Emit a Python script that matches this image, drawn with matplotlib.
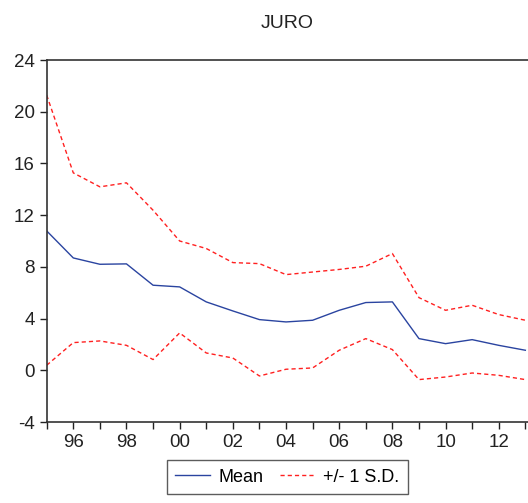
import numpy as np
import matplotlib.pyplot as plt

plt.rcParams['font.family'] = ['Liberation Sans', 'DejaVu Sans']

anos = np.arange(1995, 2014)
media = [10.78, 8.69, 8.2, 8.23, 6.58, 6.45, 5.29, 4.59, 3.92, 3.74,
         3.87, 4.64, 5.24, 5.29, 2.45, 2.06, 2.37, 1.93, 1.55]
sup = [21.28, 15.27, 14.19, 14.5, 12.38, 10.0, 9.42, 8.33, 8.25, 7.4,
       7.6, 7.8, 8.05, 9.03, 5.62, 4.64, 5.03, 4.31, 3.87]
inf = [0.39, 2.14, 2.27, 1.93, 0.83, 2.89, 1.34, 0.95, -0.44, 0.08,
       0.18, 1.55, 2.45, 1.6, -0.72, -0.52, -0.21, -0.39, -0.72]
yticks = [-4, 0, 4, 8, 12, 16, 20, 24]

fig = plt.figure(figsize=(5.28, 5.03), dpi=100)
ax = fig.add_axes([46.7/528, 1-422/503, 1-46.7/528, 362/503])

tracejado = (0, (3, 2.2))
ax.plot(anos, media, color='#2a44a0', lw=1.0, label='Mean')
ax.plot(anos, sup, color='#ff2020', lw=1.0, ls=tracejado, label='+/- 1 S.D.')
ax.plot(anos, inf, color='#ff2020', lw=1.0, ls=tracejado)

ax.set_xlim(1995, 2013.1)
ax.set_ylim(-4, 24)
ax.set_yticks(yticks)
ax.set_yticklabels([str(v) for v in yticks])
ax.set_xticks(anos)
ax.set_xticklabels(['%02d' % (a % 100) if a % 2 == 0 else '' for a in anos])
ax.tick_params(direction='out', length=5, width=1, labelsize=13.5, colors='#222222', pad=3.5)
ax.tick_params(axis='x', pad=3.5)
ax.spines['right'].set_visible(False)
for s in ['left', 'bottom', 'top']:
    ax.spines[s].set_linewidth(1.2)
    ax.spines[s].set_color('#333333')

fig.text(287.5/528, 1-23.5/503, 'JURO', ha='center', va='center', fontsize=14, color='#222222')

leg = fig.legend(loc='center', bbox_to_anchor=(287.5/528, 1-477/503), ncol=2, fontsize=13,
                 frameon=True, fancybox=False, handlelength=1.9, columnspacing=0.9,
                 handletextpad=0.5, borderpad=0.45)
leg.get_frame().set_edgecolor('#333333')
leg.get_frame().set_linewidth(1.0)

fig.savefig('out.png', dpi=100)
